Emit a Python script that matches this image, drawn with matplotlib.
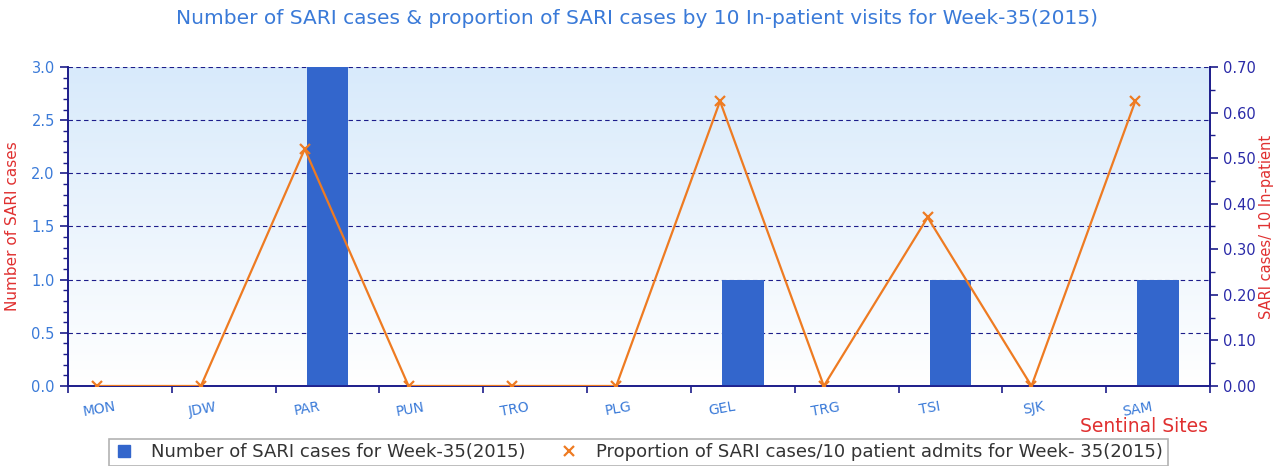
import numpy as np
import matplotlib
matplotlib.use("Agg")
import matplotlib.pyplot as plt
from matplotlib.lines import Line2D

# data
sites = ['MON', 'JDW', 'PAR', 'PUN', 'TRO', 'PLG', 'GEL', 'TRG', 'TSI', 'SJK', 'SAM']
sari_cases = [0, 0, 3, 0, 0, 0, 1, 0, 1, 0, 1]
sari_prop = [0.0, 0.0, 0.52, 0.0, 0.0, 0.0, 0.625, 0.0, 0.37, 0.0, 0.625]

navy = '#1c1c8a'
blue_txt = '#3a7ad8'
red_txt = '#e03030'
bar_col = '#3366cc'
line_col = '#ee7b22'

fig = plt.figure(figsize=(12.74, 4.66), dpi=100)
ax = fig.add_axes([0.0534, 0.1717, 0.8964, 0.6845])
ax2 = ax.twinx()

x = np.arange(len(sites))

# gradient background
grad = np.linspace(0, 1, 256).reshape(-1, 1)
cmap = matplotlib.colors.LinearSegmentedColormap.from_list('bg', ['#ffffff', '#d8eafb'])
ax.imshow(grad, aspect='auto', cmap=cmap, origin='lower',
          extent=[-0.5, len(sites) - 0.5, 0, 3.0], zorder=0)

ax.bar(x, sari_cases, width=0.4, color=bar_col, zorder=3)
ax.set_xlim(-0.5, len(sites) - 0.5)
ax.set_ylim(0, 3.0)
ax.set_yticks(np.arange(0, 3.01, 0.5))
ax.set_yticks(np.arange(0, 3.01, 0.1), minor=True)
ax.set_yticklabels([f'{v:.1f}' for v in np.arange(0, 3.01, 0.5)])
for v in np.arange(0.5, 3.01, 0.5):
    ax.axhline(v, color=navy, ls=(0, (4, 3)), lw=0.8, zorder=1)

# x ticks: marks on boundaries, labels shifted left
ax.set_xticks(np.arange(-0.5, len(sites), 1.0))
ax.set_xticklabels([])
ax.set_xticks(x - 0.2, minor=True)
ax.set_xticklabels(sites, minor=True, rotation=10, color=blue_txt, fontsize=10)
ax.tick_params(axis='x', which='major', length=5, color=navy, width=1.2)
ax.tick_params(axis='x', which='minor', length=0, pad=10)
ax.tick_params(axis='y', which='major', length=6, color=navy, width=1.2,
               labelcolor=blue_txt, labelsize=10.5)
ax.tick_params(axis='y', which='minor', length=3.5, color=navy, width=1)

ax2.plot(x - 0.22, sari_prop, color=line_col, lw=1.6, marker='x', ms=7, mew=1.6, zorder=4)
ax2.set_ylim(0, 0.70)
ax2.set_yticks(np.arange(0, 0.701, 0.1))
ax2.set_yticks(np.arange(0, 0.701, 0.05), minor=True)
ax2.set_yticklabels([f'{v:.2f}' for v in np.arange(0, 0.701, 0.1)])
ax2.tick_params(axis='y', which='major', length=6, color=navy, width=1.2,
                labelcolor='#2a2aa8', labelsize=10.5)
ax2.tick_params(axis='y', which='minor', length=3.5, color=navy, width=1)

for a in (ax, ax2):
    a.spines['top'].set_visible(False)
    for s in ('left', 'right', 'bottom'):
        a.spines[s].set_color(navy)
        a.spines[s].set_linewidth(1.2)

ax.set_ylabel('Number of SARI cases', color=red_txt, fontsize=11, labelpad=2)
ax.yaxis.set_label_coords(-0.042, 0.5)
ax2.set_ylabel('SARI cases/ 10 In-patient', color=red_txt, fontsize=10.5)
ax2.yaxis.set_label_coords(1.043, 0.5)

fig.text(0.5, 0.96, 'Number of SARI cases & proportion of SARI cases by 10 In-patient visits for Week-35(2015)',
         ha='center', va='center', color=blue_txt, fontsize=14.5)
fig.text(0.948, 0.085, 'Sentinal Sites', ha='right', va='center', color=red_txt, fontsize=13.5)

handles = [
    Line2D([], [], ls='none', marker='s', ms=8, color=bar_col),
    Line2D([], [], ls='none', marker='x', ms=7, mew=1.6, color=line_col),
]
labels = ['Number of SARI cases for Week-35(2015)',
          'Proportion of SARI cases/10 patient admits for Week- 35(2015)']
leg = fig.legend(handles, labels, ncol=2, loc='center', bbox_to_anchor=(0.501, 0.03),
                 fontsize=13, frameon=True, fancybox=False, edgecolor='#a0a0a0',
                 handletextpad=0.9, columnspacing=1.8, borderpad=0.25, handlelength=1.2,
                 borderaxespad=0)
leg.get_frame().set_linewidth(1.2)
for t in leg.get_texts():
    t.set_color('#333333')

fig.savefig('out.png', dpi=100)
